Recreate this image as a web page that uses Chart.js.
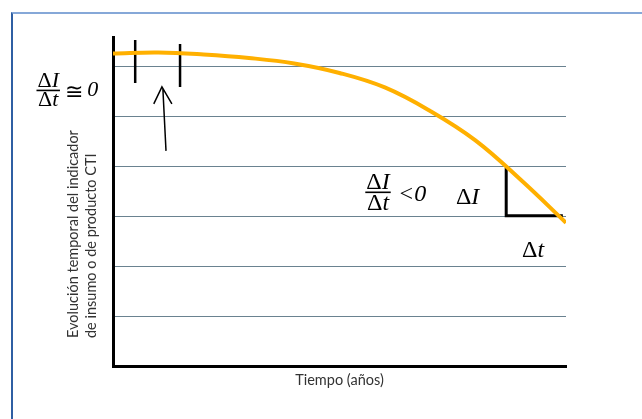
<!DOCTYPE html>
<html>
<head>
<meta charset="utf-8">
<script src="https://cdn.jsdelivr.net/npm/chart.js@4"></script>
<style>
  body { margin: 0; background: #fff; overflow: hidden; }
  #wrap { position: relative; width: 642px; height: 419px; }
  #frame {
    position: absolute; left: 11px; top: 12px; width: 700px; height: 500px;
    border-left: 2px solid #2f5fa3; border-top: 2px solid #86a8d8;
  }
  canvas { position: absolute; left: 0; top: 0; }
</style>
</head>
<body>
<div id="wrap">
  <div id="frame"></div>
  <canvas id="chart" width="642" height="419"></canvas>
</div>
<script>
// Time (x) and indicator (y)
const timeX = [0, 1, 2, 3, 4, 5, 6, 7, 8, 9, 10];
const indicatorY = [6.27, 6.29, 6.25, 6.18, 6.07, 5.88, 5.59, 5.12, 4.53, 3.74, 2.88];

// Black marks (null splits segments)
const tickX = [0.49, 0.49, 0.49, 1.48, 1.48];
const tickY = [6.54, 5.68, null, 6.46, 5.60];
const arrowX = [1.17, 1.10, 1.10, 0.90, 1.08, 1.30];
const arrowY = [4.32, 5.58, null, 5.26, 5.60, 5.26];
const triangleX = [8.68, 8.68, 9.93];
const triangleY = [3.98, 3.02, 3.02];

const yTitleLines = ["Evolución temporal del indicador", "de insumo o de producto CTI"];
const xTitle = "Tiempo (años)";

function zip(xs, ys) {
  return xs.map((x, i) => ({ x: x, y: ys[i] }));
}

// Draw text made of upright / italic parts
function mathText(ctx, parts, x, y, size, align) {
  const fonts = parts.map((p) => (p[1] ? "italic " : "") + size + "px 'Liberation Serif'");
  let total = 0;
  const widths = parts.map((p, i) => {
    ctx.font = fonts[i];
    const w = ctx.measureText(p[0]).width;
    total += w;
    return w;
  });
  let cx = align === "center" ? x - total / 2 : x;
  ctx.textAlign = "left";
  ctx.textBaseline = "alphabetic";
  parts.forEach((p, i) => {
    ctx.font = fonts[i];
    ctx.fillText(p[0], cx, y);
    cx += widths[i];
  });
  return total;
}

function fraction(ctx, cx, barY, size) {
  const w1 = mathText(ctx, [["Δ", false], ["I", true]], cx, barY - 3, size, "center");
  const w2 = mathText(ctx, [["Δ", false], ["t", true]], cx, barY + size * 0.72, size, "center");
  const w = Math.max(w1, w2) + 2;
  ctx.fillRect(cx - w / 2, barY - 0.8, w, 1.6);
}

const labelsPlugin = {
  id: "labels",
  afterDatasetsDraw(chart) {
    const ctx = chart.ctx;
    const sx = chart.scales.x;
    const sy = chart.scales.y;
    const px = (v) => sx.getPixelForValue(v);
    const py = (v) => sy.getPixelForValue(v);
    ctx.save();
    ctx.fillStyle = "#000";

    // left: dI/dt ~= 0
    fraction(ctx, px(-1.43), py(5.53), 22);
    ctx.font = "22px 'Liberation Serif'";
    ctx.textAlign = "center";
    ctx.fillText("≅", px(-0.86), py(5.36));
    ctx.font = "italic 22px 'Liberation Serif'";
    ctx.textAlign = "left";
    ctx.fillText("0", px(-0.57), py(5.42));

    // middle: dI/dt < 0
    fraction(ctx, px(5.85), py(3.49), 24);
    ctx.font = "italic 24px 'Liberation Serif'";
    ctx.textAlign = "left";
    ctx.fillText("<0", px(6.29), py(3.32));
    mathText(ctx, [["Δ", false], ["I", true]], px(7.57), py(3.26), 24, "left");
    mathText(ctx, [["Δ", false], ["t", true]], px(9.03), py(2.2), 24, "left");

    // y axis title, two rotated lines, bottom aligned
    ctx.fillStyle = "#333";
    ctx.font = "14.5px Lato";
    ctx.textAlign = "left";
    ctx.textBaseline = "middle";
    [73, 91].forEach((lx, i) => {
      ctx.save();
      ctx.translate(lx, 338);
      ctx.rotate(-Math.PI / 2);
      ctx.fillText(yTitleLines[i], 0, 0);
      ctx.restore();
    });
    ctx.restore();
  },
};

function drawChart() {
  new Chart(document.getElementById("chart"), {
    type: "line",
    data: {
      datasets: [
        {
          data: zip(timeX, indicatorY),
          borderColor: "#ffb000",
          borderWidth: 4,
          pointRadius: 0,
          tension: 0.4,
        },
        {
          data: zip(tickX, tickY),
          borderColor: "#000",
          borderWidth: 2.5,
          pointRadius: 0,
          spanGaps: false,
        },
        {
          data: zip(arrowX, arrowY),
          borderColor: "#000",
          borderWidth: 1.5,
          pointRadius: 0,
          spanGaps: false,
        },
        {
          data: zip(triangleX, triangleY),
          borderColor: "#000",
          borderWidth: 3,
          pointRadius: 0,
          borderJoinStyle: "miter",
        },
      ],
    },
    options: {
      responsive: false,
      animation: false,
      layout: { padding: { left: 113, top: 37, right: 76, bottom: 30 } },
      plugins: { legend: { display: false }, tooltip: { enabled: false } },
      scales: {
        x: {
          type: "linear",
          min: 0,
          max: 10,
          grid: { display: false, drawTicks: false },
          border: { color: "#000", width: 3 },
          ticks: { display: false },
          title: {
            display: true,
            text: xTitle,
            color: "#333",
            font: { family: "Lato", size: 14.5 },
            padding: { top: 5, bottom: 0 },
          },
        },
        y: {
          min: 0,
          max: 6.6,
          ticks: { display: false, stepSize: 1 },
          grid: {
            drawTicks: false,
            color: (c) =>
              c.tick && c.tick.value > 0 && Number.isInteger(c.tick.value) ? "#6a8290" : "rgba(0,0,0,0)",
          },
          border: { color: "#000", width: 3 },
        },
      },
    },
    plugins: [labelsPlugin],
  });
}

// wait for the local fonts before drawing on the canvas
Promise.all([
  document.fonts.load("22px 'Liberation Serif'"),
  document.fonts.load("italic 22px 'Liberation Serif'"),
  document.fonts.load("14.5px Lato"),
]).then(drawChart, drawChart);
</script>
</body>
</html>
